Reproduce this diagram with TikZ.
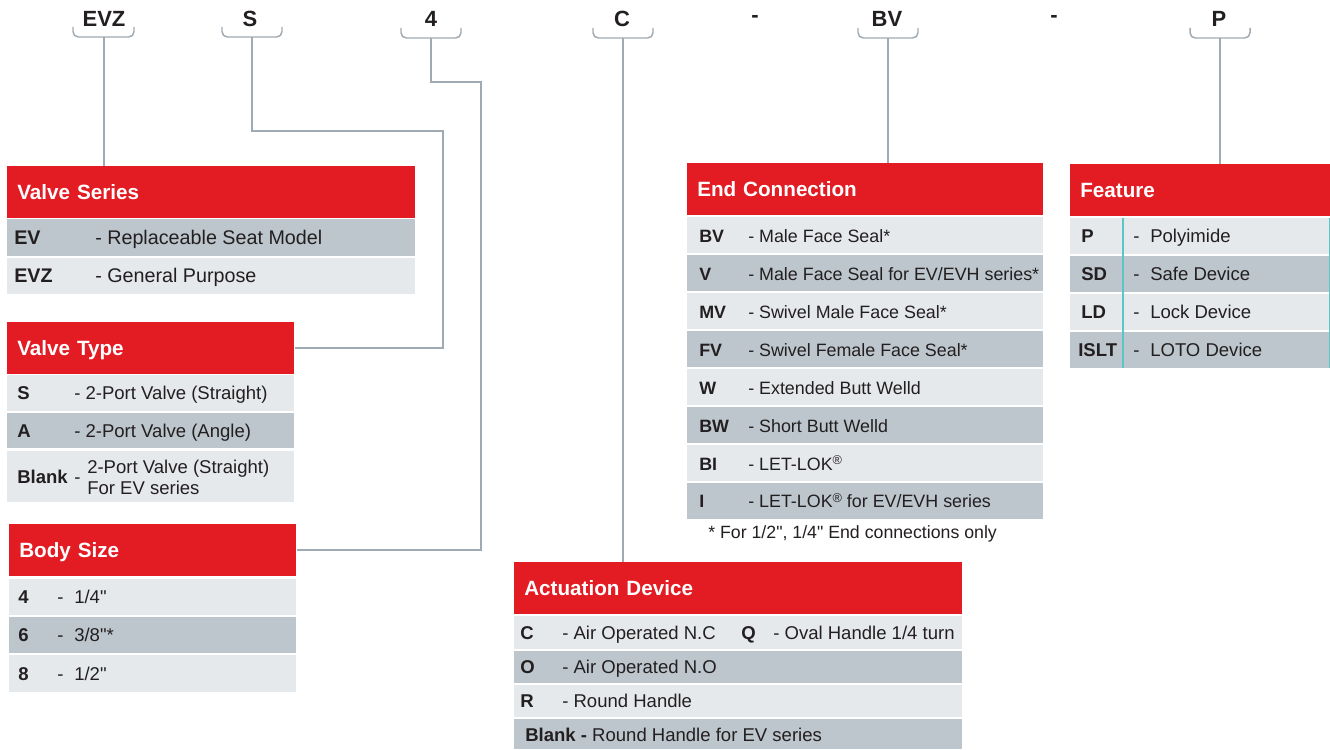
\documentclass[tikz,border=0pt]{standalone}
\usepackage{fontspec}
\setmainfont{Liberation Sans}
\usepackage{graphicx}
\usepackage{tikz}
\usetikzlibrary{positioning}
\usepackage{xcolor}

\definecolor{evred}{HTML}{E31B23}
\definecolor{rowdark}{HTML}{BCC6CC}
\definecolor{rowlight}{HTML}{E6E9EC}
\definecolor{linkgray}{HTML}{9FAAB2}
\definecolor{evtext}{HTML}{231F20}
\definecolor{septeal}{HTML}{5CC6C6}

\newcommand{\rowfont}{\fontsize{13.9pt}{16pt}\selectfont}
\newcommand{\hdrfont}{\fontsize{15.5pt}{18pt}\selectfont\bfseries}
\newcommand{\topfont}{\fontsize{16.5pt}{19pt}\selectfont\bfseries}
\newcommand{\regmark}{\raisebox{0.55ex}{\fontsize{9.5pt}{9.5pt}\selectfont\textregistered}}
\newcommand{\inch}{\XeTeXglyph\XeTeXcharglyph"0022\relax}

\begin{document}
\begin{tikzpicture}[x=0.75pt,y=-0.75pt,
    top/.style={font=\topfont,text=evtext,inner sep=0pt,text height=11.8pt,text depth=0pt},
    brace/.style={draw=linkgray,line width=1.1pt,rounded corners=4pt},
    link/.style={draw=linkgray,line width=1.4pt},
    hdr/.style={anchor=north west,fill=evred,text=white,font=\hdrfont,inner xsep=7.5pt,inner ysep=0pt,minimum height=39pt,align=left,text height=11pt,text depth=0pt},
    cd/.style={anchor=west,inner sep=0pt,font=\rowfont\bfseries,text=evtext,text height=10pt,text depth=0pt},
    ds/.style={anchor=west,inner sep=0pt,font=\rowfont,text=evtext,text height=10pt,text depth=0pt}]

    \useasboundingbox (0,0) rectangle (1330,749);

    % ordering code
    \node[top] (evz) at (104,19) {EVZ};
    \node[top] (s) at (250,19) {S};
    \node[top] (four) at (431,19) {4};
    \node[top] (c) at (622,19) {C};
    \node[top] (dash1) at (755,15) {-};
    \node[top] (bv) at (887,19) {BV};
    \node[top] (dash2) at (1054,15) {-};
    \node[top] (p) at (1219,19) {P};

    \draw[brace] (73,27) -- (73,37) -- (134,37) -- (134,27);
    \draw[brace] (222,27) -- (222,37) -- (282,37) -- (282,27);
    \draw[brace] (401,28) -- (401,38) -- (461,38) -- (461,28);
    \draw[brace] (593,28) -- (593,38) -- (653,38) -- (653,28);
    \draw[brace] (858,28) -- (858,38) -- (918,38) -- (918,28);
    \draw[brace] (1190,28) -- (1190,38) -- (1250,38) -- (1250,28);

    \coordinate (evzb) at (104,37);
    \coordinate (sb) at (252,37);
    \coordinate (fb) at (431,38);
    \coordinate (cb) at (623,38);
    \coordinate (bvb) at (888,38);
    \coordinate (pb) at (1220,38);
    \coordinate (sbend) at (443,131);
    \coordinate (fbend) at (481,82);

    % Valve Series
    \node[hdr,text width=291pt] (vs) at (7,166) {Valve Series};
    \fill[rowdark] (7,219) rectangle (415,256);
    \fill[rowlight] (7,258) rectangle (415,294);
    \node[cd,font=\fontsize{14.8pt}{17pt}\selectfont\bfseries] (vs-ev) at (14,237.5) {EV};
    \node[ds,font=\fontsize{14.8pt}{17pt}\selectfont] (vs-evd) at (95,237.5) {- Replaceable Seat Model};
    \node[cd,font=\fontsize{14.8pt}{17pt}\selectfont\bfseries] (vs-evz) at (14,276) {EVZ};
    \node[ds,font=\fontsize{14.8pt}{17pt}\selectfont] (vs-evzd) at (95,276) {- General Purpose};

    % Valve Type
    \node[hdr,text width=200.25pt] (vt) at (7,322) {Valve Type};
    \fill[rowlight] (7,375) rectangle (294,411);
    \fill[rowdark] (7,413) rectangle (294,448);
    \fill[rowlight] (7,451) rectangle (294,502);
    \node[cd] (vt-s) at (17,393) {S};
    \node[ds] (vt-sd) at (74,393) {- 2-Port Valve (Straight)};
    \node[cd] (vt-a) at (17,430.5) {A};
    \node[ds] (vt-ad) at (74,430.5) {- 2-Port Valve (Angle)};
    \node[cd] (vt-b) at (17,477) {Blank};
    \node[ds] (vt-bm) at (74,477) {-};
    \node[ds] (vt-bd1) at (87,466.5) {2-Port Valve (Straight)};
    \node[ds] (vt-bd2) at (87,488) {For EV series};

    % Body Size
    \node[hdr,text width=200.25pt] (bs) at (9,524) {Body Size};
    \fill[rowlight] (9,579) rectangle (296,615);
    \fill[rowdark] (9,617) rectangle (296,653);
    \fill[rowlight] (9,655) rectangle (296,692);
    \node[cd] (bs-4) at (18,597) {4};
    \node[ds] (bs-4m) at (57,597) {-};
    \node[ds] (bs-4d) at (74,597) {1/4\inch};
    \node[cd] (bs-6) at (18,635) {6};
    \node[ds] (bs-6m) at (57,635) {-};
    \node[ds] (bs-6d) at (74,635) {3/8\inch*};
    \node[cd] (bs-8) at (18,673.5) {8};
    \node[ds] (bs-8m) at (57,673.5) {-};
    \node[ds] (bs-8d) at (74,673.5) {1/2\inch};

    % End Connection
    \node[hdr,text width=252pt] (ec) at (687,163) {End Connection};
    \fill[rowlight] (687,217) rectangle (1043,253);
    \fill[rowdark] (687,255) rectangle (1043,291);
    \fill[rowlight] (687,293) rectangle (1043,329);
    \fill[rowdark] (687,331) rectangle (1043,367);
    \fill[rowlight] (687,369) rectangle (1043,405);
    \fill[rowdark] (687,407) rectangle (1043,443);
    \fill[rowlight] (687,445) rectangle (1043,481);
    \fill[rowdark] (687,483) rectangle (1043,519);
    \node[cd,font=\fontsize{13.4pt}{16pt}\selectfont\bfseries] (ec-bv) at (699,235.5) {BV};
    \node[ds,font=\fontsize{13.4pt}{16pt}\selectfont] (ec-bvd) at (748,235.5) {- Male Face Seal*};
    \node[cd,font=\fontsize{13.4pt}{16pt}\selectfont\bfseries] (ec-v) at (699,273.5) {V};
    \node[ds,font=\fontsize{13.4pt}{16pt}\selectfont] (ec-vd) at (748,273.5) {- Male Face Seal for EV/EVH series*};
    \node[cd,font=\fontsize{13.4pt}{16pt}\selectfont\bfseries] (ec-mv) at (699,311.5) {MV};
    \node[ds,font=\fontsize{13.4pt}{16pt}\selectfont] (ec-mvd) at (748,311.5) {- Swivel Male Face Seal*};
    \node[cd,font=\fontsize{13.4pt}{16pt}\selectfont\bfseries] (ec-fv) at (699,349.5) {FV};
    \node[ds,font=\fontsize{13.4pt}{16pt}\selectfont] (ec-fvd) at (748,349.5) {- Swivel Female Face Seal*};
    \node[cd,font=\fontsize{13.4pt}{16pt}\selectfont\bfseries] (ec-w) at (699,387.5) {W};
    \node[ds,font=\fontsize{13.4pt}{16pt}\selectfont] (ec-wd) at (748,387.5) {- Extended Butt Welld};
    \node[cd,font=\fontsize{13.4pt}{16pt}\selectfont\bfseries] (ec-bw) at (699,425.5) {BW};
    \node[ds,font=\fontsize{13.4pt}{16pt}\selectfont] (ec-bwd) at (748,425.5) {- Short Butt Welld};
    \node[cd,font=\fontsize{13.4pt}{16pt}\selectfont\bfseries] (ec-bi) at (699,463.5) {BI};
    \node[ds,font=\fontsize{13.4pt}{16pt}\selectfont] (ec-bid) at (748,463.5) {- LET-LOK\regmark};
    \node[cd,font=\fontsize{13.4pt}{16pt}\selectfont\bfseries] (ec-i) at (699,501) {I};
    \node[ds,font=\fontsize{13.4pt}{16pt}\selectfont] (ec-id) at (748,501) {- LET-LOK\regmark\ for EV/EVH series};
    \node[ds,font=\fontsize{13.3pt}{16pt}\selectfont] (ec-note) at (708,532) {* For 1/2\inch, 1/4\inch\ End connections only};

    % Feature
    \node[hdr,text width=180pt] (ft) at (1070,164) {Feature};
    \fill[rowlight] (1070,218) rectangle (1330,254);
    \fill[rowdark] (1070,256) rectangle (1330,292);
    \fill[rowlight] (1070,294) rectangle (1330,330);
    \fill[rowdark] (1070,332) rectangle (1330,368);
    \draw[septeal,line width=1pt] (1123,218) -- (1123,368);
    \draw[septeal,line width=0.6pt] (1329,218) -- (1329,368);
    \node[cd] (ft-p) at (1081,236) {P};
    \node[ds] (ft-pm) at (1133,236) {-};
    \node[ds] (ft-pd) at (1150,236) {Polyimide};
    \node[cd] (ft-sd) at (1081,274) {SD};
    \node[ds] (ft-sdm) at (1133,274) {-};
    \node[ds] (ft-sdd) at (1150,274) {Safe Device};
    \node[cd] (ft-ld) at (1081,312) {LD};
    \node[ds] (ft-ldm) at (1133,312) {-};
    \node[ds] (ft-ldd) at (1150,312) {Lock Device};
    \node[cd] (ft-islt) at (1078,350) {ISLT};
    \node[ds] (ft-isltm) at (1133,350) {-};
    \node[ds] (ft-isltd) at (1150,350) {LOTO Device};

    % Actuation Device
    \node[hdr,text width=321pt] (ad) at (514,562) {Actuation Device};
    \fill[rowlight] (514,616) rectangle (962,649);
    \fill[rowdark] (514,651) rectangle (962,683);
    \fill[rowlight] (514,685) rectangle (962,717);
    \fill[rowdark] (514,719) rectangle (962,749);
    \node[cd] (ad-c) at (520,632.5) {C};
    \node[ds] (ad-cd) at (562,632.5) {- Air Operated N.C};
    \node[cd] (ad-q) at (741,632.5) {Q};
    \node[ds] (ad-qd) at (773,632.5) {- Oval Handle 1/4 turn};
    \node[cd] (ad-o) at (520,667) {O};
    \node[ds] (ad-od) at (562,667) {- Air Operated N.O};
    \node[cd] (ad-r) at (520,701) {R};
    \node[ds] (ad-rd) at (562,701) {- Round Handle};
    \node[ds] (ad-b) at (525,735) {\textbf{Blank -} Round Handle for EV series};

    % connectors
    \draw[link] (evzb) -- (evzb |- vs.north);
    \draw[link] (sb) |- (sbend) |- (vt.east);
    \draw[link] (fb) |- (fbend) |- (bs.east);
    \draw[link] (cb) -- (cb |- ad.north);
    \draw[link] (bvb) -- (bvb |- ec.north);
    \draw[link] (pb) -- (pb |- ft.north);
\end{tikzpicture}
\end{document}
